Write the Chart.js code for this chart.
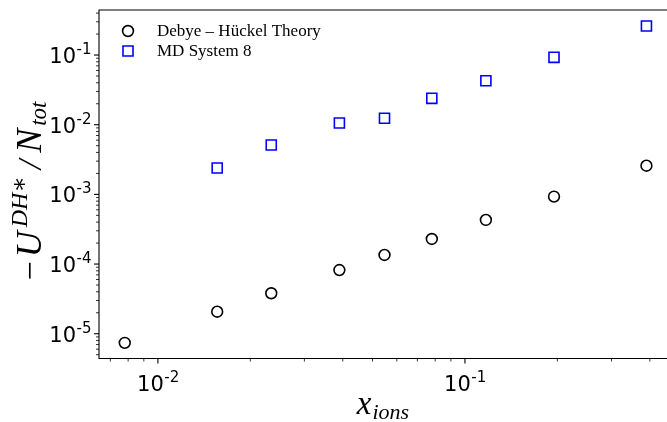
<!DOCTYPE html>
<html>
<head>
<meta charset="utf-8">
<script src="https://cdn.jsdelivr.net/npm/chart.js@4.4.0/dist/chart.umd.min.js"></script>
<style>
  html, body { margin: 0; padding: 0; background: #fff; }
  #wrap { width: 667px; height: 422px; }
</style>
</head>
<body>
<div id="wrap"><canvas id="chart" width="667" height="422"></canvas></div>
<script>
// ion fraction of each simulated system
const xIons = [0.0078, 0.0156, 0.0234, 0.039, 0.0547, 0.078, 0.117, 0.195, 0.39];
// -U^{DH*}/N_tot, Debye-Hückel prediction (one per x value)
const debyeHuckel = [7.4e-6, 2.07e-5, 3.81e-5, 8.2e-5, 1.35e-4, 2.29e-4, 4.3e-4, 9.3e-4, 2.58e-3];
// MD System 8 starts at the second x value
const mdX = xIons.slice(1);
const mdSystem8 = [2.39e-3, 5.11e-3, 1.06e-2, 1.24e-2, 2.39e-2, 4.28e-2, 9.27e-2, 0.261];
// decade exponents that get a 10^n label
const xDecades = [-2, -1];
const yDecades = [-5, -4, -3, -2, -1];

const X_MIN = 0.00643, X_MAX = 0.455;
const Y_MIN = 4.41e-6, Y_MAX = 0.443;

const SERIF = '"Liberation Serif", "DejaVu Serif", serif';
const SANS = '"DejaVu Sans", sans-serif';

function pairs(xs, ys) {
  return ys.map((v, i) => ({ x: xs[i], y: v }));
}

// "10" with a raised exponent, anchored right or centred
function drawPower(ctx, exp, x, baseY, anchor) {
  const base = '10', sup = String(exp);
  ctx.font = '21px ' + SANS;
  const wb = ctx.measureText(base).width;
  ctx.font = '15px ' + SANS;
  const ws = ctx.measureText(sup).width;
  const total = wb + ws;
  const left = anchor === 'right' ? x - total : x - total / 2;
  ctx.textAlign = 'left';
  ctx.textBaseline = 'alphabetic';
  ctx.font = '21px ' + SANS;
  ctx.fillText(base, left, baseY);
  ctx.font = '15px ' + SANS;
  ctx.fillText(sup, left + wb + 0.5, baseY - 9);
}

// math-style label built from pieces {t, size, dy, italic, gap}
function drawPieces(ctx, pieces, cx, cy, rotate) {
  ctx.save();
  ctx.translate(cx, cy);
  if (rotate) ctx.rotate(-Math.PI / 2);
  ctx.textAlign = 'left';
  ctx.textBaseline = 'alphabetic';
  const font = p => (p.italic ? 'italic ' : '') + p.size + 'px ' + SERIF;
  let total = 0;
  pieces.forEach(p => {
    ctx.font = font(p);
    p.w = ctx.measureText(p.t).width + (p.gap || 0);
    total += p.w;
  });
  let x = -total / 2;
  pieces.forEach(p => {
    ctx.font = font(p);
    ctx.fillText(p.t, x, p.dy || 0);
    x += p.w;
  });
  ctx.restore();
}

const frameAndLabels = {
  id: 'frameAndLabels',
  afterDraw(chart) {
    const { ctx, chartArea: a, scales: { x, y } } = chart;
    ctx.save();
    ctx.fillStyle = '#000';
    ctx.strokeStyle = '#000';

    // axes frame (right side runs off the canvas)
    ctx.lineWidth = 1.1;
    ctx.beginPath();
    ctx.moveTo(a.right + 2, a.top);
    ctx.lineTo(a.left, a.top);
    ctx.lineTo(a.left, a.bottom);
    ctx.lineTo(a.right + 2, a.bottom);
    ctx.stroke();

    // log ticks: major at each decade, minor at 2..9
    for (let d = -6; d <= 0; d++) {
      for (let m = 1; m <= 9; m++) {
        const v = m * Math.pow(10, d);
        const len = m === 1 ? 5 : 3;
        ctx.lineWidth = m === 1 ? 1.1 : 0.8;
        if (v >= X_MIN && v <= X_MAX) {
          const px = x.getPixelForValue(v);
          ctx.beginPath();
          ctx.moveTo(px, a.bottom);
          ctx.lineTo(px, a.bottom + len);
          ctx.stroke();
        }
        if (v >= Y_MIN && v <= Y_MAX) {
          const py = y.getPixelForValue(v);
          ctx.beginPath();
          ctx.moveTo(a.left, py);
          ctx.lineTo(a.left - len, py);
          ctx.stroke();
        }
      }
    }

    yDecades.forEach(e => {
      const py = y.getPixelForValue(Math.pow(10, e));
      drawPower(ctx, e, a.left - 8, py + 8, 'right');
    });
    xDecades.forEach(e => {
      const px = x.getPixelForValue(Math.pow(10, e));
      drawPower(ctx, e, px, a.bottom + 32, 'center');
    });

    // axis titles
    drawPieces(ctx, [
      { t: 'x', size: 33, italic: true, gap: 1 },
      { t: 'ions', size: 22, italic: true, dy: 5 }
    ], (a.left + a.right) / 2, 414, false);

    drawPieces(ctx, [
      { t: '\u2212', size: 34, gap: 4 },
      { t: 'U', size: 36, italic: true, gap: 4 },
      { t: 'DH\u2217', size: 24, italic: true, dy: -14, gap: 7 },
      { t: '/', size: 34, italic: true, gap: 7 },
      { t: 'N', size: 36, italic: true, gap: 3 },
      { t: 'tot', size: 23, italic: true, dy: 5 }
    ], 41, 191, true);

    // legend, taken from the dataset styles
    const h = Chart.helpers;
    chart.data.datasets.forEach((ds, i) => {
      const cy = 31 + i * 20;
      ctx.lineWidth = ds.pointBorderWidth;
      ctx.strokeStyle = ds.pointBorderColor;
      ctx.fillStyle = 'rgba(0,0,0,0)';
      h.drawPoint(ctx, { pointStyle: ds.pointStyle, radius: ds.pointRadius, borderWidth: ds.pointBorderWidth, rotation: 0 }, 128, cy);
      ctx.fillStyle = '#000';
      ctx.font = '17px ' + SERIF;
      ctx.textAlign = 'left';
      ctx.textBaseline = 'middle';
      ctx.fillText(ds.label, 157, cy + 1);
    });
    ctx.restore();
  }
};

new Chart(document.getElementById('chart'), {
  type: 'scatter',
  data: {
    datasets: [
      {
        label: 'Debye \u2013 H\u00fcckel Theory',
        data: pairs(xIons, debyeHuckel),
        pointStyle: 'circle',
        pointRadius: 5.4,
        pointBorderWidth: 1.6,
        pointBorderColor: '#000',
        pointBackgroundColor: 'rgba(0,0,0,0)'
      },
      {
        label: 'MD System 8',
        data: pairs(mdX, mdSystem8),
        pointStyle: 'rect',
        pointRadius: 7.1,
        pointBorderWidth: 1.6,
        pointBorderColor: '#0000ff',
        pointBackgroundColor: 'rgba(0,0,0,0)'
      }
    ]
  },
  options: {
    responsive: false,
    animation: false,
    events: [],
    layout: { autoPadding: false, padding: { left: 99, right: 0, top: 10, bottom: 63.5 } },
    plugins: { legend: { display: false }, tooltip: { enabled: false } },
    scales: {
      x: {
        type: 'logarithmic', min: X_MIN, max: X_MAX,
        grid: { display: false }, border: { display: false }, ticks: { display: false },
        afterFit(s) { s.height = 0; }
      },
      y: {
        type: 'logarithmic', min: Y_MIN, max: Y_MAX,
        grid: { display: false }, border: { display: false }, ticks: { display: false },
        afterFit(s) { s.width = 0; }
      }
    }
  },
  plugins: [frameAndLabels]
});
</script>
</body>
</html>
